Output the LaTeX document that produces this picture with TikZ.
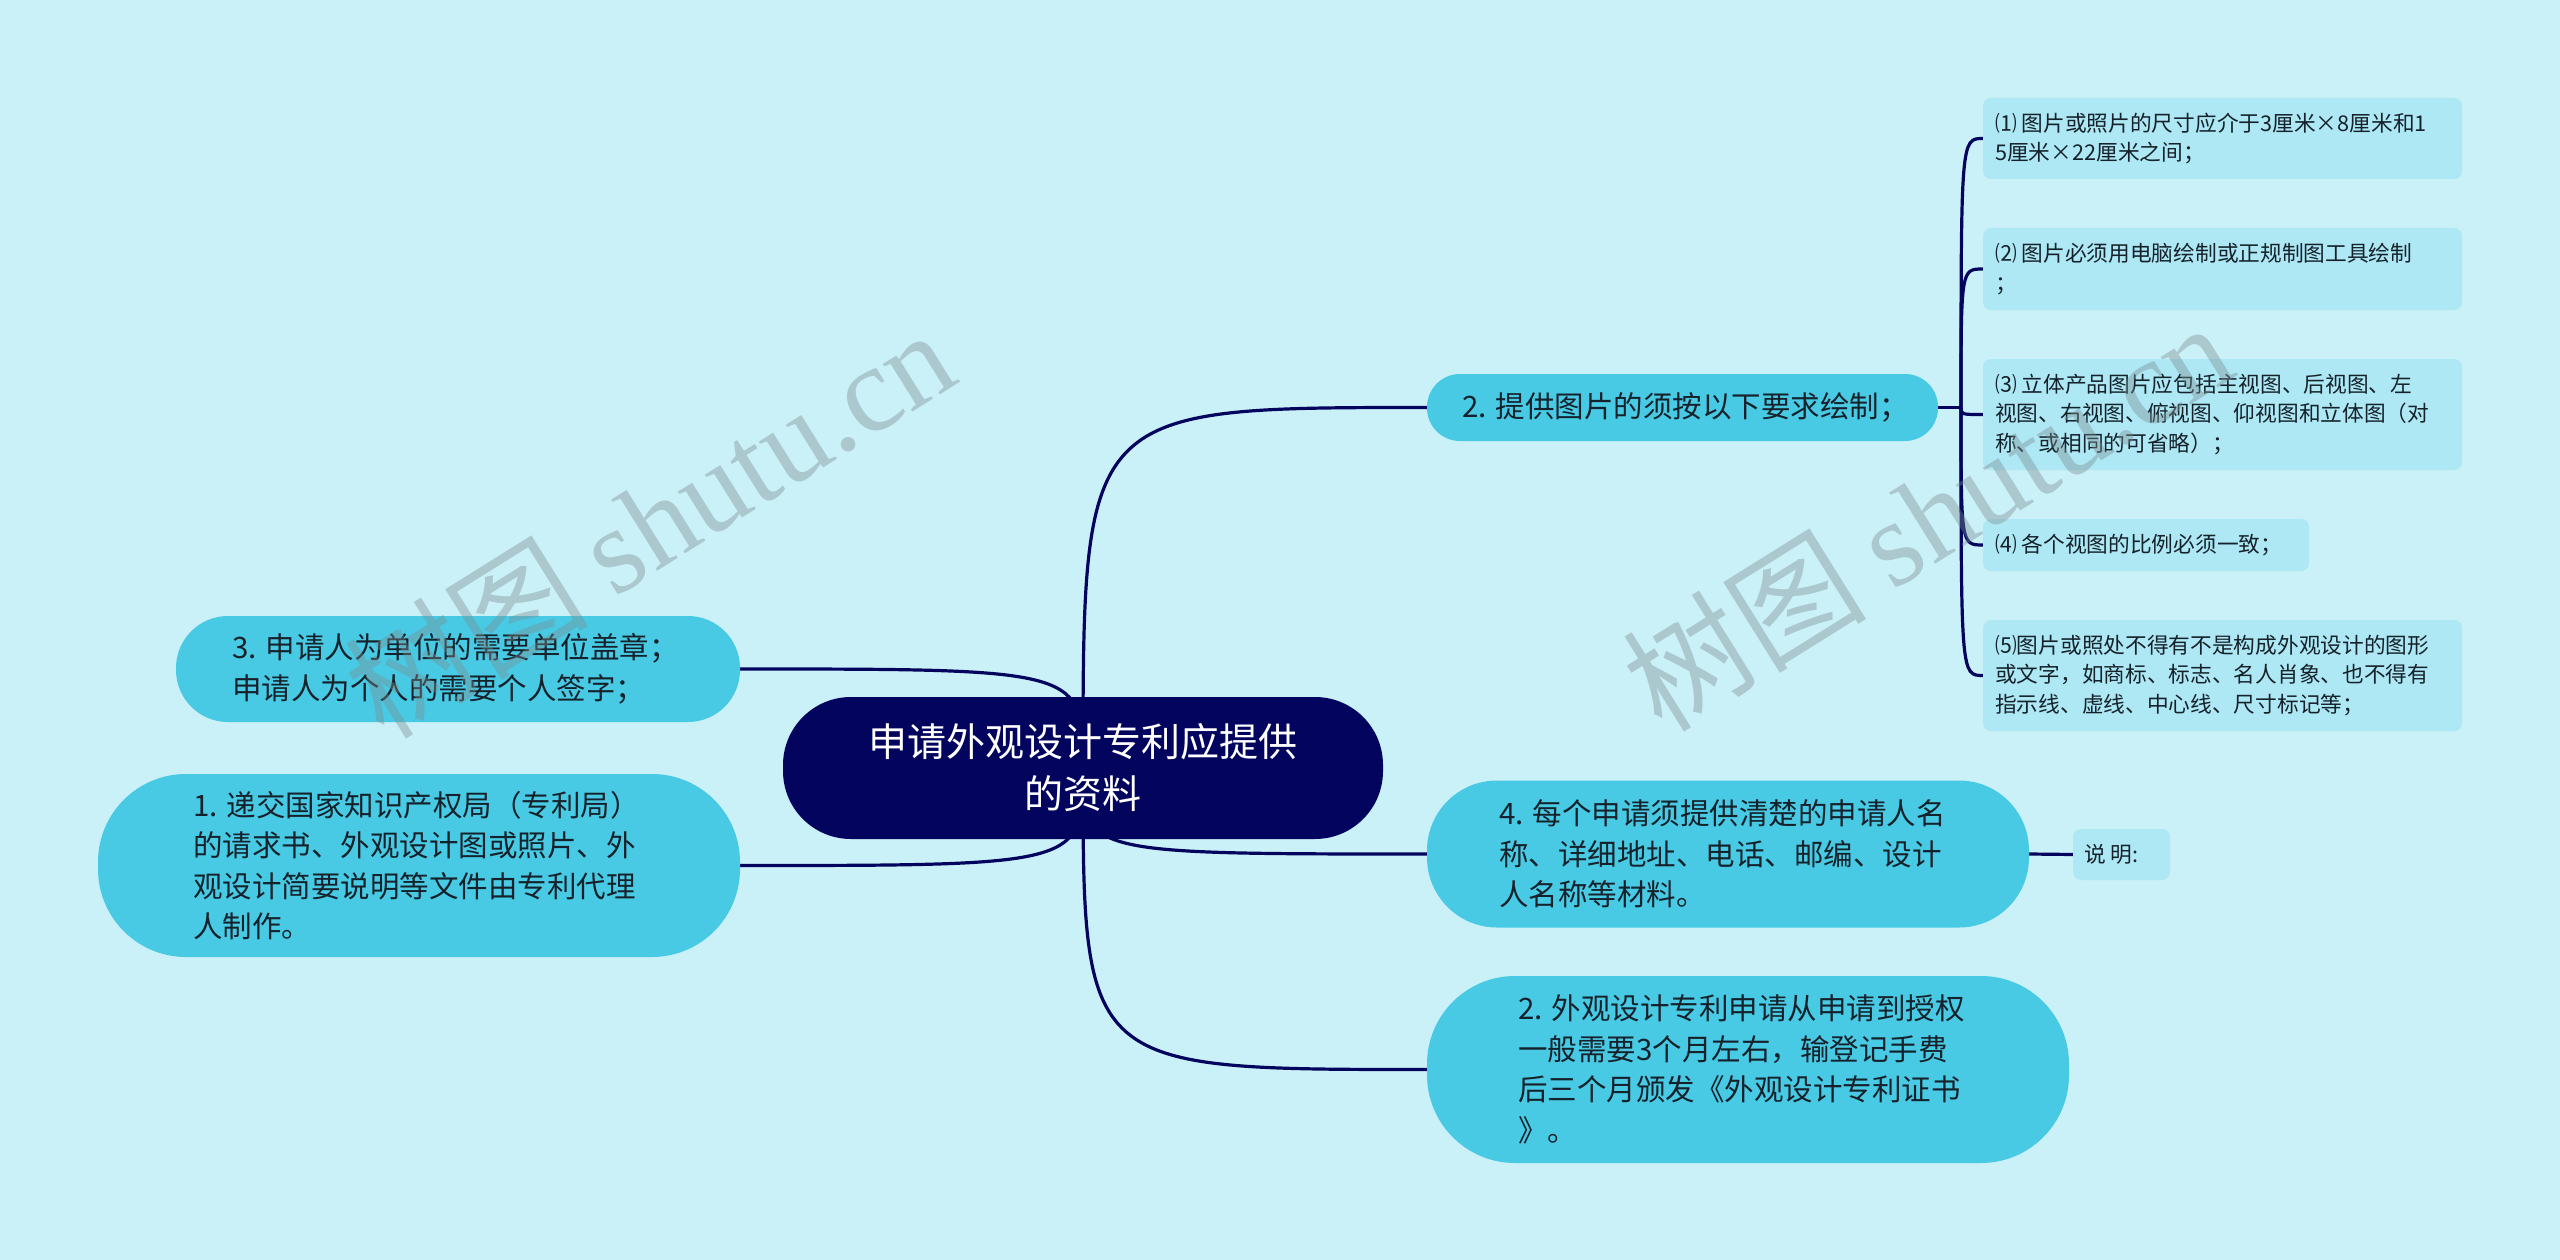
\documentclass[tikz,border=0pt]{standalone}
\usepackage{fontspec}
\setmainfont{Noto Sans CJK SC}
\newfontfamily\wmserif{Liberation Serif}
\usetikzlibrary{calc}
\definecolor{bgc}{HTML}{CAF0F8}
\definecolor{navy}{HTML}{03045E}
\definecolor{branch}{HTML}{48CAE4}
\definecolor{leaf}{HTML}{ADE8F4}
\definecolor{txt}{HTML}{16222B}
\definecolor{wm}{HTML}{7A8C90}
\pgfdeclarelayer{bgl}
\pgfdeclarelayer{edgel}
\pgfsetlayers{bgl,edgel,main}
\tikzset{
  box/.style={inner sep=0pt, outer sep=0pt, draw=none},
  branchbox/.style={box, fill=branch},
  leafbox/.style={box, fill=leaf, rounded corners=8pt},
  btext/.style={anchor=west, inner sep=0pt, align=left, text=txt, font=\fontsize{29.5}{40.5}\selectfont},
  ltext/.style={anchor=west, inner sep=0pt, align=left, text=txt, font=\fontsize{21.7}{29.5}\selectfont},
  edge/.style={draw=navy, line width=3.2pt},
  wmark/.style={text=wm, opacity=0.4, rotate=32, inner sep=0pt, font=\fontsize{122}{122}\selectfont}
}
\begin{document}
\begin{tikzpicture}[x=1pt,y=-1pt]
\useasboundingbox (0,0) rectangle (2560,1260);
\begin{pgfonlayer}{bgl}
\fill[bgc] (0,0) rectangle (2560,1260);
\end{pgfonlayer}

% central node
\node[box, fill=navy, minimum width=600pt, minimum height=142pt, rounded corners=68pt,
      text=white, align=center, font=\fontsize{39}{52}\selectfont] (c) at (1083,768)
      {申请外观设计专利应提供\\的资料};

% main branches
\node[branchbox, minimum width=511pt, minimum height=67pt, rounded corners=33pt] (n2) at (1682.5,407.5) {};
\node[btext] (t2) at ($(n2.west)+(35,0)$) {2. 提供图片的须按以下要求绘制；};

\node[branchbox, minimum width=564pt, minimum height=106pt, rounded corners=52pt] (n3) at (458,669) {};
\node[btext] (t3) at ($(n3.west)+(56,0)$) {3. 申请人为单位的需要单位盖章；\\申请人为个人的需要个人签字；};

\node[branchbox, minimum width=642pt, minimum height=183pt, rounded corners=88pt] (n1) at (419,865.5) {};
\node[btext] (t1) at ($(n1.west)+(95,0)$) {1. 递交国家知识产权局（专利局）\\的请求书、外观设计图或照片、外\\观设计简要说明等文件由专利代理\\人制作。};

\node[branchbox, minimum width=602pt, minimum height=147pt, rounded corners=70pt] (n4) at (1728,854) {};
\node[btext] (t4) at ($(n4.west)+(72,0)$) {4. 每个申请须提供清楚的申请人名\\称、详细地址、电话、邮编、设计\\人名称等材料。};

\node[branchbox, minimum width=642pt, minimum height=187pt, rounded corners=88pt] (n5) at (1748,1069.5) {};
\node[btext] (t5) at ($(n5.west)+(91,0)$) {2. 外观设计专利申请从申请到授权\\一般需要3个月左右，输登记手费\\后三个月颁发《外观设计专利证书\\》。};

% leaf of node 4
\node[leafbox, minimum width=97pt, minimum height=51pt] (sm) at (2121.5,854.5) {};
\node[ltext] (tsm) at ($(sm.west)+(11,0)$) {说 明:};

% leaves of node 2
\node[leafbox, minimum width=479pt, minimum height=81pt] (i1) at (2222.5,138.5) {};
\node[ltext] (ti1) at ($(i1.west)+(12,0)$) {⑴ 图片或照片的尺寸应介于3厘米×8厘米和1\\5厘米×22厘米之间；};

\node[leafbox, minimum width=479pt, minimum height=82pt] (i2) at (2222.5,269) {};
\node[ltext] (ti2) at ($(i2.west)+(12,0)$) {⑵ 图片必须用电脑绘制或正规制图工具绘制\\；};

\node[leafbox, minimum width=479pt, minimum height=111pt] (i3) at (2222.5,414.5) {};
\node[ltext] (ti3) at ($(i3.west)+(12,0)$) {⑶ 立体产品图片应包括主视图、后视图、左\\视图、右视图、俯视图、仰视图和立体图（对\\称、或相同的可省略）；};

\node[leafbox, minimum width=326pt, minimum height=52pt] (i4) at (2146,545) {};
\node[ltext] (ti4) at ($(i4.west)+(12,0)$) {⑷ 各个视图的比例必须一致；};

\node[leafbox, minimum width=479pt, minimum height=111pt] (i5) at (2222.5,675.5) {};
\node[ltext] (ti5) at ($(i5.west)+(12,0)$) {⑸图片或照处不得有不是构成外观设计的图形\\或文字，如商标、标志、名人肖象、也不得有\\指示线、虚线、中心线、尺寸标记等；};

\coordinate (sp) at ($(n2.east)+(23,0)$);

\begin{pgfonlayer}{edgel}
\draw[edge] (c.center) .. controls (c.center |- n2.west) .. (n2.west);
\draw[edge] (c.center) .. controls (c.center |- n4.west) .. (n4.west);
\draw[edge] (c.center) .. controls (c.center |- n5.west) .. (n5.west);
\draw[edge] (c.center) .. controls (c.center |- n3.east) .. (n3.east);
\draw[edge] (c.center) .. controls (c.center |- n1.east) .. (n1.east);
\draw[edge] (n4.east) -- (sm.west);
\draw[edge] (n2.east) -- (sp);
\draw[edge] (sp) .. controls (sp |- i1.west) .. (i1.west);
\draw[edge] (sp) .. controls (sp |- i2.west) .. (i2.west);
\draw[edge] (sp) .. controls (sp |- i3.west) .. (i3.west);
\draw[edge] (sp) .. controls (sp |- i4.west) .. (i4.west);
\draw[edge] (sp) .. controls (sp |- i5.west) .. (i5.west);
\end{pgfonlayer}

% watermarks
\node[wmark] (w1) at (649,522) {树图 {\wmserif shutu.cn}};
\node[wmark] (w2) at (1927,515) {树图 {\wmserif shutu.cn}};
\end{tikzpicture}
\end{document}
